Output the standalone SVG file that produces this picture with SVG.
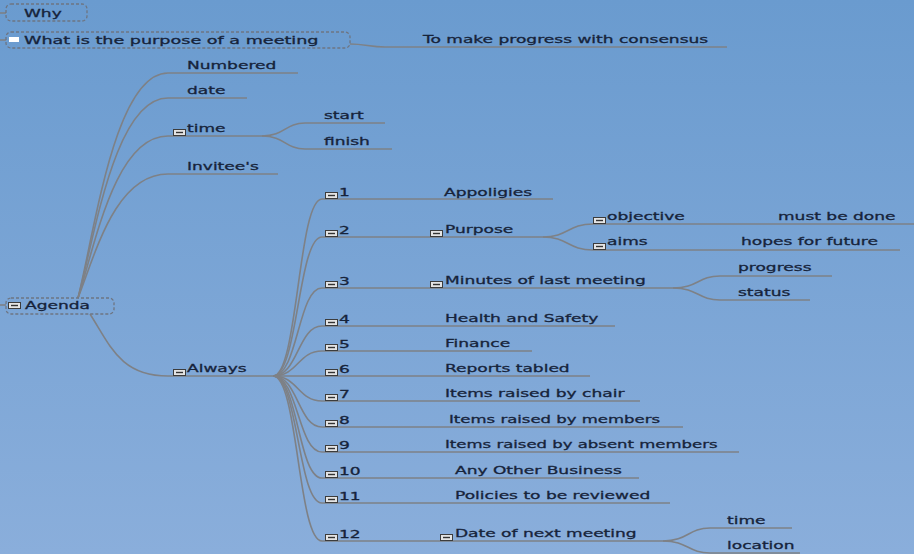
<svg xmlns="http://www.w3.org/2000/svg" xmlns:xlink="http://www.w3.org/1999/xlink" width="914" height="554" viewBox="0 0 914 554">
<defs>
<linearGradient id="bg" x1="0" y1="0" x2="0" y2="1">
<stop offset="0" stop-color="#6a9bcf"/>
<stop offset="1" stop-color="#8aaedb"/>
</linearGradient>
<g id="col">
<rect x="0.5" y="0.5" width="12" height="6" fill="#e4e4e4" stroke="#3c3c3c" stroke-width="1"/>
<line x1="3" y1="3.5" x2="10" y2="3.5" stroke="#333" stroke-width="1.4"/>
</g>
<style>
.t{font-family:"DejaVu Sans","Liberation Sans",sans-serif;font-size:11px;fill:#16233a;stroke:#16233a;stroke-width:0.3}
.c{fill:none;stroke:#7e8186;stroke-width:1.6}
.b{fill:none;stroke:#6e7582;stroke-width:1.3;stroke-dasharray:3 2}
</style>
</defs>
<rect width="914" height="554" fill="url(#bg)"/>

<g id="connectors" class="c">
<path d="M0,13 H6"/>
<path d="M0,40 H6"/>
<path d="M350,44 C365,44 370,47 385,47 H727"/>
<path d="M0,305 H6"/>
<path d="M78,298 C95,230 115,73 168,73 H298"/>
<path d="M78,298 C95,235 115,98 168,98 H247"/>
<path d="M78,298 C95,245 115,136 168,136 H262"/>
<path d="M78,298 C95,255 115,174 168,174 H278"/>
<path d="M262,136 C285,136 285,123 305,123 H385"/>
<path d="M262,136 C285,136 285,149 305,149 H392"/>
<path d="M90,314 C110,345 120,376 168,376 H273"/>
<path d="M273,376 C298,376 298,199 322,199 H553"/>
<path d="M273,376 C298,376 298,237 322,237 H543"/>
<path d="M273,376 C298,376 298,288 322,288 H673"/>
<path d="M273,376 C298,376 298,326 322,326 H615"/>
<path d="M273,376 C298,376 298,351 322,351 H532"/>
<path d="M273,376 H590"/>
<path d="M273,376 C298,376 298,401 322,401 H640"/>
<path d="M273,376 C298,376 298,427 322,427 H683"/>
<path d="M273,376 C298,376 298,452 322,452 H739"/>
<path d="M273,376 C298,376 298,478 322,478 H639"/>
<path d="M273,376 C298,376 298,503 322,503 H670"/>
<path d="M273,376 C298,376 298,541 322,541 H663"/>
<path d="M543,237 C568,237 568,224 593,224 H914"/>
<path d="M543,237 C568,237 568,250 593,250 H900"/>
<path d="M673,288 C698,288 698,276 720,276 H832"/>
<path d="M673,288 C698,288 698,300 720,300 H810"/>
<path d="M663,541 C688,541 688,528 710,528 H792"/>
<path d="M663,541 C688,541 688,553 710,553 H800"/>
</g>

<g id="why"><rect class="b" x="6" y="4" width="81" height="17" rx="5"/><text class="t" transform="translate(24 17) scale(1.55 1)">Why</text></g>
<g id="purpose-q"><rect class="b" x="6" y="32" width="344" height="16" rx="5"/><rect x="9" y="37" width="10" height="5" fill="#fff"/><text class="t" transform="translate(24 44) scale(1.6 1)">What is the purpose of a meeting</text></g>
<g id="consensus"><text class="t" transform="translate(423 43) scale(1.55 1)">To make progress with consensus</text></g>
<g id="agenda"><rect class="b" x="6" y="298" width="108" height="16" rx="5"/><use xlink:href="#col" x="8" y="302"/><text class="t" transform="translate(25 309) scale(1.55 1)">Agenda</text></g>
<g id="numbered"><text class="t" transform="translate(187 69) scale(1.55 1)">Numbered</text></g>
<g id="date"><text class="t" transform="translate(187 94) scale(1.55 1)">date</text></g>
<g id="time"><use xlink:href="#col" x="173" y="129"/><text class="t" transform="translate(187 132) scale(1.55 1)">time</text></g>
<g id="start"><text class="t" transform="translate(324 119) scale(1.55 1)">start</text></g>
<g id="finish"><text class="t" transform="translate(324 145) scale(1.55 1)">finish</text></g>
<g id="invitees"><text class="t" transform="translate(187 170) scale(1.55 1)">Invitee's</text></g>
<g id="always"><use xlink:href="#col" x="173" y="369"/><text class="t" transform="translate(187 372) scale(1.55 1)">Always</text></g>

<g id="n1"><use xlink:href="#col" x="325" y="192"/><text class="t" transform="translate(339 196) scale(1.55 1)">1</text></g>
<g id="n2"><use xlink:href="#col" x="325" y="230"/><text class="t" transform="translate(339 234) scale(1.55 1)">2</text></g>
<g id="n3"><use xlink:href="#col" x="325" y="281"/><text class="t" transform="translate(339 285) scale(1.55 1)">3</text></g>
<g id="n4"><use xlink:href="#col" x="325" y="319"/><text class="t" transform="translate(339 323) scale(1.55 1)">4</text></g>
<g id="n5"><use xlink:href="#col" x="325" y="344"/><text class="t" transform="translate(339 348) scale(1.55 1)">5</text></g>
<g id="n6"><use xlink:href="#col" x="325" y="369"/><text class="t" transform="translate(339 373) scale(1.55 1)">6</text></g>
<g id="n7"><use xlink:href="#col" x="325" y="394"/><text class="t" transform="translate(339 398) scale(1.55 1)">7</text></g>
<g id="n8"><use xlink:href="#col" x="325" y="420"/><text class="t" transform="translate(339 424) scale(1.55 1)">8</text></g>
<g id="n9"><use xlink:href="#col" x="325" y="445"/><text class="t" transform="translate(339 449) scale(1.55 1)">9</text></g>
<g id="n10"><use xlink:href="#col" x="325" y="471"/><text class="t" transform="translate(339 475) scale(1.55 1)">10</text></g>
<g id="n11"><use xlink:href="#col" x="325" y="496"/><text class="t" transform="translate(339 500) scale(1.55 1)">11</text></g>
<g id="n12"><use xlink:href="#col" x="325" y="534"/><text class="t" transform="translate(339 538) scale(1.55 1)">12</text></g>

<g id="appoligies"><text class="t" transform="translate(444 196) scale(1.55 1)">Appoligies</text></g>
<g id="purpose"><use xlink:href="#col" x="430" y="230"/><text class="t" transform="translate(445 233) scale(1.55 1)">Purpose</text></g>
<g id="minutes"><use xlink:href="#col" x="430" y="281"/><text class="t" transform="translate(445 284) scale(1.55 1)">Minutes of last meeting</text></g>
<g id="health"><text class="t" transform="translate(445 322) scale(1.55 1)">Health and Safety</text></g>
<g id="finance"><text class="t" transform="translate(445 347) scale(1.55 1)">Finance</text></g>
<g id="reports"><text class="t" transform="translate(445 372) scale(1.55 1)">Reports tabled</text></g>
<g id="chair"><text class="t" transform="translate(445 397) scale(1.55 1)">Items raised by chair</text></g>
<g id="members"><text class="t" transform="translate(449 423) scale(1.5 1)">Items raised by members</text></g>
<g id="absent"><text class="t" transform="translate(445 448) scale(1.5 1)">Items raised by absent members</text></g>
<g id="aob"><text class="t" transform="translate(455 474) scale(1.55 1)">Any Other Business</text></g>
<g id="policies"><text class="t" transform="translate(455 499) scale(1.55 1)">Policies to be reviewed</text></g>
<g id="nextmeeting"><use xlink:href="#col" x="440" y="534"/><text class="t" transform="translate(455 537) scale(1.55 1)">Date of next meeting</text></g>

<g id="objective"><use xlink:href="#col" x="593" y="217"/><text class="t" transform="translate(607 220) scale(1.55 1)">objective</text></g>
<g id="mustbedone"><text class="t" transform="translate(778 220) scale(1.55 1)">must be done</text></g>
<g id="aims"><use xlink:href="#col" x="593" y="243"/><text class="t" transform="translate(607 245) scale(1.55 1)">aims</text></g>
<g id="hopes"><text class="t" transform="translate(741 245) scale(1.55 1)">hopes for future</text></g>
<g id="progress"><text class="t" transform="translate(738 271) scale(1.55 1)">progress</text></g>
<g id="status"><text class="t" transform="translate(738 296) scale(1.55 1)">status</text></g>
<g id="time2"><text class="t" transform="translate(727 524) scale(1.55 1)">time</text></g>
<g id="location"><text class="t" transform="translate(727 549) scale(1.55 1)">location</text></g>
</svg>
